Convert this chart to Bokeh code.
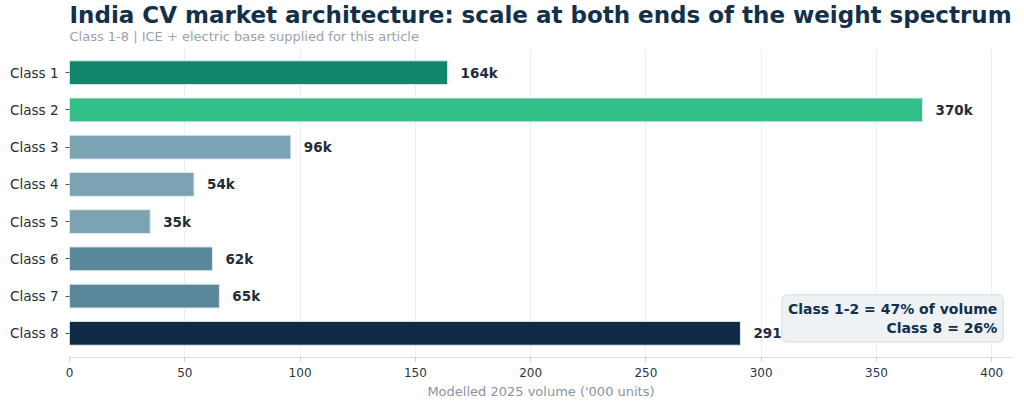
from bokeh.plotting import figure
from bokeh.models import ColumnDataSource, Range1d, FixedTicker, Title, Label
from bokeh.embed import file_html
from bokeh.resources import INLINE
from bokeh.core.properties import value

classes = ["Class 1", "Class 2", "Class 3", "Class 4", "Class 5", "Class 6", "Class 7", "Class 8"]
volumes = [164, 370, 96, 54, 35, 62, 65, 291]
value_labels = ["164k", "370k", "96k", "54k", "35k", "62k", "65k", "291k"]
colors = ["#10876a", "#33bf88", "#7ba3b3", "#7ba3b3", "#7ba3b3", "#5a8799", "#5a8799", "#0f2a44"]
x_ticks = [0, 50, 100, 150, 200, 250, 300, 350, 400]
title_text = "India CV market architecture: scale at both ends of the weight spectrum"
subtitle_text = "Class 1-8 | ICE + electric base supplied for this article"
note_text = "Class 1-2 = 47% of volume\nClass 8 = 26%"

FONT = "DejaVu Sans"
pos = list(range(len(classes)))

src = ColumnDataSource(dict(y=pos, v=volumes, lab=value_labels, c=colors))

p = figure(width=1016, height=401, output_backend="svg", toolbar_location=None,
           x_range=Range1d(0, 409), y_range=Range1d(7.65, -0.65),
           min_border_left=69, min_border_right=4, min_border_bottom=43, min_border_top=48)
p.outline_line_color = None
p.background_fill_color = "white"

sub = Title(text=subtitle_text, text_font=FONT,
            text_font_size="13px", text_font_style="normal", text_color="#9aa3aa",
            standoff=9, offset=0)
main = Title(text=title_text,
             text_font=FONT, text_font_size="23px", text_font_style="bold", text_color="#12304a",
             standoff=-11, offset=0)
p.add_layout(sub, "above")
p.add_layout(main, "above")

p.hbar(y="y", right="v", left=0, height=0.64, fill_color="c", line_color="#dfeae8",
       line_width=1, source=src)
p.text(x="v", y="y", text="lab", x_offset=13, text_baseline="middle", text_align="left",
       text_font=value(FONT), text_font_size="13.5px", text_font_style="bold",
       text_color="#1f2d3a", source=src)

note = Label(x=405, y=6.6, text=note_text,
             text_align="right", text_baseline="middle", text_font=FONT,
             text_font_size="14px", text_font_style="bold", text_color="#12304a",
             background_fill_color="#eef2f4", background_fill_alpha=1.0,
             border_line_color="#d3dde2", border_line_width=1, padding=6, border_radius=5)
p.add_layout(note)

p.xaxis.ticker = FixedTicker(ticks=x_ticks)
p.xaxis.axis_label = "Modelled 2025 volume ('000 units)"
p.xaxis.axis_label_text_font = FONT
p.xaxis.axis_label_text_font_size = "13px"
p.xaxis.axis_label_text_font_style = "normal"
p.xaxis.axis_label_text_color = "#8a949c"
p.xaxis.axis_label_standoff = 4
p.xaxis.major_label_standoff = 6
p.xaxis.major_label_text_font = FONT
p.xaxis.major_label_text_font_size = "12px"
p.xaxis.major_label_text_color = "#2b3540"
p.xaxis.axis_line_color = "#dcdfe2"
p.xaxis.major_tick_line_color = "#c8ccd0"
p.xaxis.major_tick_in = 0
p.xaxis.major_tick_out = 4
p.xaxis.minor_tick_line_color = None

p.yaxis.ticker = FixedTicker(ticks=pos)
p.yaxis.major_label_overrides = {i: c for i, c in enumerate(classes)}
p.yaxis.major_label_text_font = FONT
p.yaxis.major_label_text_font_size = "13.5px"
p.yaxis.major_label_text_color = "#1f2d3a"
p.yaxis.axis_line_color = None
p.yaxis.major_tick_line_color = "#555555"
p.yaxis.major_tick_in = 0
p.yaxis.major_tick_out = 4
p.yaxis.minor_tick_line_color = None
p.yaxis.major_label_standoff = 7

p.xgrid.ticker = FixedTicker(ticks=x_ticks)
p.xgrid.grid_line_color = "#eceef0"
p.ygrid.grid_line_color = None

open("out.html", "w").write(file_html(p, INLINE))
